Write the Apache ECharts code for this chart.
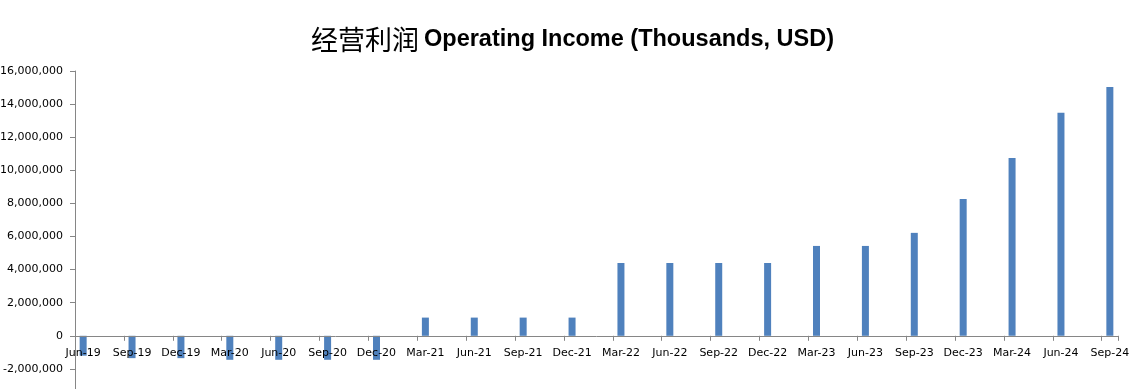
<!DOCTYPE html>
<html>
<head>
<meta charset="utf-8">
<script src="https://cdn.jsdelivr.net/npm/echarts@6/dist/echarts.min.js"></script>
<style>html,body{margin:0;padding:0;background:#fff;}#c{width:1145px;height:389px;}</style>
</head>
<body>
<div id="c"></div>
<script>
var quarters = ['Jun-19','Sep-19','Dec-19','Mar-20','Jun-20','Sep-20','Dec-20','Mar-21','Jun-21','Sep-21','Dec-21','Mar-22','Jun-22','Sep-22','Dec-22','Mar-23','Jun-23','Sep-23','Dec-23','Mar-24','Jun-24','Sep-24'];
var operatingIncome = [-1200000,-1350000,-1350000,-1450000,-1450000,-1450000,-1450000,1100000,1100000,1100000,1100000,4400000,4400000,4400000,4400000,5430000,5430000,6220000,8270000,10750000,13470000,15040000];
var yTicks = [-4000000,-2000000,0,2000000,4000000,6000000,8000000,10000000,12000000,14000000,16000000];

// monthly slots (date axis with month base unit): quarter label then two empty months
var months = [], monthly = [];
quarters.forEach(function(q, i){
  months.push(q); monthly.push(operatingIncome[i]);
  if (i < quarters.length - 1) { months.push(''); monthly.push(null); months.push(''); monthly.push(null); }
});

var gridTop = 71, gridBottom = -13, H = 389;
var yMin = yTicks[0], yMax = yTicks[yTicks.length-1];
var plotH = H - gridTop - gridBottom;
// distance from grid bottom up to the zero line
var zeroOffset = plotH * (0 - yMin) / (yMax - yMin);

var chart = echarts.init(document.getElementById('c'));
chart.setOption({
  animation: false,
  backgroundColor: '#fff',
  title: {
    text: '{zh|经营利润} {en|Operating Income (Thousands, USD)}',
    left: 'center', top: 21,
    textStyle: {
      rich: {
        zh: {fontFamily: 'Noto Sans CJK SC', fontSize: 27, color: '#000', fontWeight: 'normal'},
        en: {fontFamily: 'Liberation Sans', fontSize: 23.5, color: '#000', fontWeight: 'bold'}
      }
    }
  },
  grid: {left: 75, right: 27, top: gridTop, bottom: gridBottom, containLabel: false, outerBoundsMode: 'none'},
  xAxis: {
    type: 'category',
    data: months,
    boundaryGap: true,
    position: 'bottom',
    offset: -zeroOffset,
    axisLine: {onZero: false, lineStyle: {color: '#868686', width: 1}},
    axisTick: {show: true, interval: 2, length: 5, alignWithLabel: false, lineStyle: {color: '#868686'}},
    axisLabel: {interval: 2, margin: 12, fontFamily: 'DejaVu Sans', fontSize: 11, color: '#000'},
    splitLine: {show: false},
    z: 5
  },
  yAxis: {
    type: 'value',
    min: yMin, max: yMax, interval: 2000000,
    axisLine: {show: true, lineStyle: {color: '#868686', width: 1}},
    axisTick: {show: true, length: 5, lineStyle: {color: '#868686'}},
    axisLabel: {
      margin: 12, fontFamily: 'DejaVu Sans', fontSize: 11, color: '#000',
      formatter: function(v){ return v.toLocaleString('en-US'); }
    },
    splitLine: {show: false}
  },
  series: [{
    type: 'bar',
    data: monthly,
    barWidth: 7,
    itemStyle: {color: '#4f81bd'}
  }]
});
</script>
</body>
</html>
